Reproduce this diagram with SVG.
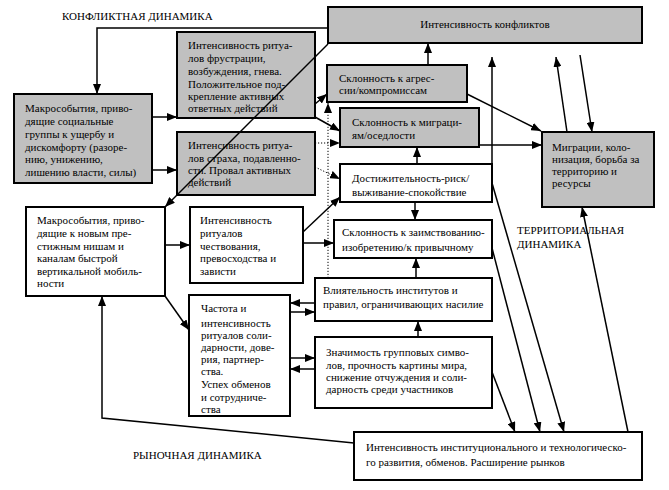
<svg xmlns="http://www.w3.org/2000/svg" width="669" height="490" viewBox="0 0 669 490">
<defs>
<style>
.g{fill:#c0c0c0;stroke:#000;stroke-width:2}
.w{fill:#fff;stroke:#000;stroke-width:2}
.c line,.c polyline{stroke:#000;stroke-width:1.5;fill:none;marker-end:url(#a)}
.c .d{stroke-width:1;stroke-dasharray:1.2 1.8}
</style>
<marker id="a" viewBox="0 0 10 8" refX="10" refY="4" markerWidth="10" markerHeight="8" markerUnits="userSpaceOnUse" orient="auto">
<path d="M0,0 L10,4 L0,8 z" fill="#000"/>
</marker>
</defs>
<rect width="669" height="490" fill="#fff"/>
<text font-family="Liberation Serif" font-size="11" x="62" y="20">КОНФЛИКТНАЯ ДИНАМИКА</text>
<text font-family="Liberation Serif" font-size="11" x="517" y="234">ТЕРРИТОРИАЛЬНАЯ</text>
<text font-family="Liberation Serif" font-size="11" x="517" y="248">ДИНАМИКА</text>
<text font-family="Liberation Serif" font-size="11" x="133" y="459">РЫНОЧНАЯ ДИНАМИКА</text>

<g id="n1"><rect class="g" x="328" y="7" width="314" height="36"/><text font-family="Liberation Serif" font-size="11" x="485" y="28" text-anchor="middle">Интенсивность конфликтов</text></g>
<g id="n2"><rect class="g" x="177" y="32" width="138" height="86"/>
<text font-family="Liberation Serif" font-size="11" x="188" y="49">Интенсивность ритуа-</text><text font-family="Liberation Serif" font-size="11" x="188" y="62">лов фрустрации,</text><text font-family="Liberation Serif" font-size="11" x="188" y="75">возбуждения, гнева.</text><text font-family="Liberation Serif" font-size="11" x="188" y="88">Положительное под-</text><text font-family="Liberation Serif" font-size="11" x="188" y="100">крепление активных</text><text font-family="Liberation Serif" font-size="11" x="188" y="112">ответных действий</text></g>
<g id="n3"><rect class="g" x="14" y="94" width="138" height="89"/>
<text font-family="Liberation Serif" font-size="11" x="25" y="112">Макрособытия, приво-</text><text font-family="Liberation Serif" font-size="11" x="25" y="125">дящие социальные</text><text font-family="Liberation Serif" font-size="11" x="25" y="138">группы к ущербу и</text><text font-family="Liberation Serif" font-size="11" x="25" y="151">дискомфорту (разоре-</text><text font-family="Liberation Serif" font-size="11" x="25" y="163">нию, унижению,</text><text font-family="Liberation Serif" font-size="11" x="25" y="176">лишению власти, силы)</text></g>
<g id="n4"><rect class="g" x="177" y="132" width="138" height="63"/>
<text font-family="Liberation Serif" font-size="11" x="188" y="149">Интенсивность ритуа-</text><text font-family="Liberation Serif" font-size="11" x="188" y="162">лов страха, подавленно-</text><text font-family="Liberation Serif" font-size="11" x="188" y="174">сти. Провал активных</text><text font-family="Liberation Serif" font-size="11" x="188" y="186">действий</text></g>
<g id="n5"><rect class="g" x="327" y="65" width="140" height="37"/>
<text font-family="Liberation Serif" font-size="11" x="339" y="82">Склонность к агрес-</text><text font-family="Liberation Serif" font-size="11" x="339" y="94">сии/компромиссам</text></g>
<g id="n6"><rect class="g" x="340" y="108" width="139" height="39"/>
<text font-family="Liberation Serif" font-size="11" x="352" y="126">Склонность к миграци-</text><text font-family="Liberation Serif" font-size="11" x="352" y="139">ям/оседлости</text></g>
<g id="n7"><rect class="g" x="542" y="132" width="112" height="75"/>
<text font-family="Liberation Serif" font-size="11" x="552" y="151">Миграции, коло-</text><text font-family="Liberation Serif" font-size="11" x="552" y="163">низация, борьба за</text><text font-family="Liberation Serif" font-size="11" x="552" y="175">территорию и</text><text font-family="Liberation Serif" font-size="11" x="552" y="187">ресурсы</text></g>
<g id="n8"><rect class="w" x="340" y="164" width="152" height="38"/>
<text font-family="Liberation Serif" font-size="11" x="352" y="182">Достижительность-риск/</text><text font-family="Liberation Serif" font-size="11" x="352" y="196">выживание-спокойствие</text></g>
<g id="n9"><rect class="w" x="334" y="220" width="158" height="38"/>
<text font-family="Liberation Serif" font-size="11" x="342" y="236">Склонность к заимствованию-</text><text font-family="Liberation Serif" font-size="11" x="342" y="251">изобретению/к привычному</text></g>
<g id="n10"><rect class="w" x="315" y="278" width="177" height="43"/>
<text font-family="Liberation Serif" font-size="11" x="323" y="294">Влиятельность институтов и</text><text font-family="Liberation Serif" font-size="11" x="323" y="308">правил, ограничивающих насилие</text></g>
<g id="n11"><rect class="w" x="315" y="337" width="177" height="71"/>
<text font-family="Liberation Serif" font-size="11" x="326" y="356">Значимость групповых симво-</text><text font-family="Liberation Serif" font-size="11" x="326" y="369">лов, прочность картины мира,</text><text font-family="Liberation Serif" font-size="11" x="326" y="381">снижение отчуждения и соли-</text><text font-family="Liberation Serif" font-size="11" x="326" y="393">дарность среди участников</text></g>
<g id="n12"><rect class="w" x="189" y="295" width="101" height="121"/>
<text font-family="Liberation Serif" font-size="11" x="201" y="312">Частота и</text><text font-family="Liberation Serif" font-size="11" x="201" y="327">интенсивность</text><text font-family="Liberation Serif" font-size="11" x="201" y="339">ритуалов соли-</text><text font-family="Liberation Serif" font-size="11" x="201" y="351">дарности, дове-</text><text font-family="Liberation Serif" font-size="11" x="201" y="363">рия, партнер-</text><text font-family="Liberation Serif" font-size="11" x="201" y="375">ства.</text><text font-family="Liberation Serif" font-size="11" x="201" y="388">Успех обменов</text><text font-family="Liberation Serif" font-size="11" x="201" y="401">и сотрудниче-</text><text font-family="Liberation Serif" font-size="11" x="201" y="413">ства</text></g>
<g id="n13"><rect class="w" x="190" y="207" width="113" height="76"/>
<text font-family="Liberation Serif" font-size="11" x="200" y="224">Интенсивность</text><text font-family="Liberation Serif" font-size="11" x="200" y="237">ритуалов</text><text font-family="Liberation Serif" font-size="11" x="200" y="250">чествования,</text><text font-family="Liberation Serif" font-size="11" x="200" y="262">превосходства и</text><text font-family="Liberation Serif" font-size="11" x="200" y="275">зависти</text></g>
<g id="n14"><rect class="w" x="26" y="207" width="139" height="89"/>
<text font-family="Liberation Serif" font-size="11" x="37" y="224">Макрособытия, приво-</text><text font-family="Liberation Serif" font-size="11" x="37" y="237">дящие к новым пре-</text><text font-family="Liberation Serif" font-size="11" x="37" y="250">стижным нишам и</text><text font-family="Liberation Serif" font-size="11" x="37" y="262">каналам быстрой</text><text font-family="Liberation Serif" font-size="11" x="37" y="275">вертикальной мобиль-</text><text font-family="Liberation Serif" font-size="11" x="37" y="287">ности</text></g>
<g id="n15"><rect class="w" x="354" y="432" width="288" height="48"/>
<text font-family="Liberation Serif" font-size="11" x="366" y="451">Интенсивность институционального и технологическо-</text><text font-family="Liberation Serif" font-size="11" x="366" y="466">го развития, обменов. Расширение рынков</text></g>

<g id="connectors" class="c">
<polyline points="328,28 97,28 97,94"/>
<line x1="328" y1="44" x2="165" y2="207"/>
<line x1="152" y1="117" x2="177" y2="117"/>
<line x1="152" y1="170" x2="177" y2="170"/>
<line x1="315" y1="104" x2="327" y2="94"/>
<line x1="315" y1="117" x2="340" y2="131"/>
<line class="d" x1="315" y1="143" x2="340" y2="143"/>
<line class="d" x1="315" y1="167" x2="340" y2="179"/>
<line class="d" x1="328" y1="278" x2="328" y2="103"/>
<line x1="303" y1="232" x2="340" y2="197"/>
<line x1="303" y1="243" x2="334" y2="243"/>
<line x1="165" y1="245" x2="190" y2="245"/>
<line x1="165" y1="296" x2="189" y2="330"/>
<line x1="315" y1="303" x2="290" y2="303"/>
<line x1="290" y1="312" x2="315" y2="312"/>
<line x1="290" y1="358" x2="315" y2="358"/>
<line x1="315" y1="369" x2="290" y2="369"/>
<line x1="418" y1="337" x2="418" y2="321"/>
<line x1="416" y1="278" x2="416" y2="258"/>
<line x1="415" y1="202" x2="415" y2="220"/>
<line x1="417" y1="164" x2="417" y2="147"/>
<line x1="428" y1="65" x2="428" y2="43"/>
<line x1="467" y1="94" x2="541" y2="131"/>
<line x1="479" y1="145" x2="542" y2="145"/>
<line x1="492" y1="164" x2="492" y2="57"/>
<line x1="492" y1="372" x2="515" y2="432"/>
<line x1="492" y1="248" x2="540" y2="432"/>
<line x1="492" y1="183" x2="564" y2="432"/>
<line x1="628" y1="432" x2="582" y2="207"/>
<line x1="567" y1="132" x2="556" y2="57"/>
<line x1="580" y1="55" x2="592" y2="132"/>
<polyline points="354,443 102,418 102,296"/>
</g>
</svg>
